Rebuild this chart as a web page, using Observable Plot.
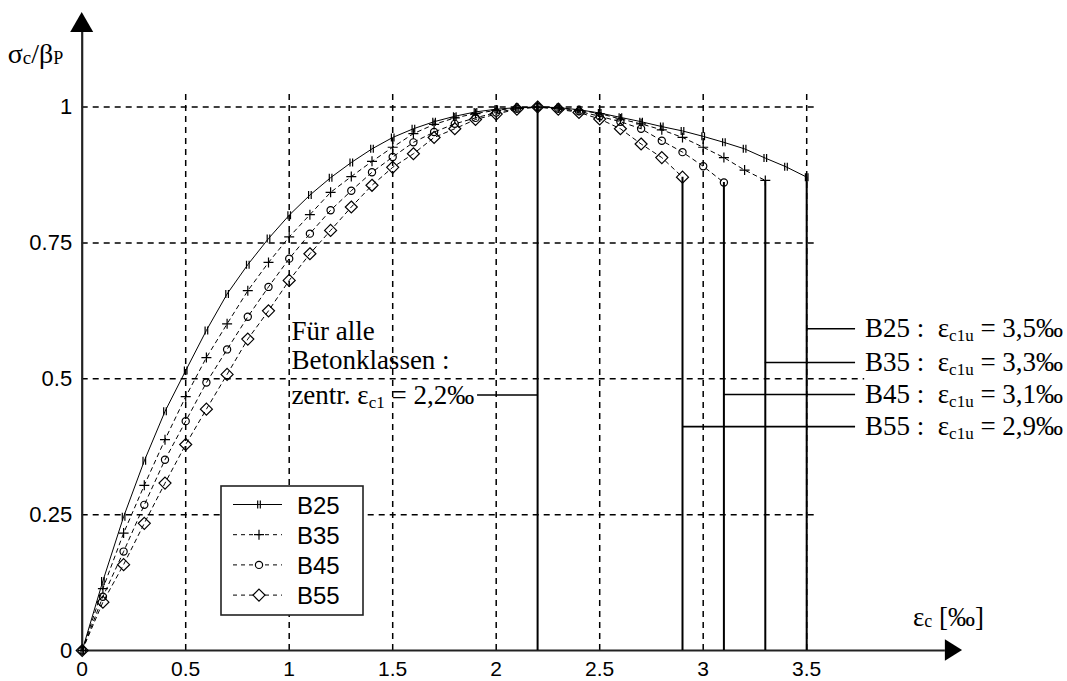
<!DOCTYPE html>
<html>
<head>
<meta charset="utf-8">
<script src="https://cdn.jsdelivr.net/npm/d3@7"></script>
<script src="https://cdn.jsdelivr.net/npm/@observablehq/plot@0.6"></script>
<style>
  html, body { margin: 0; padding: 0; background: #fff; }
  svg { display: block; }
</style>
</head>
<body>
<div id="chart"></div>
<script>
// ---------- data ----------
const strain = [0,0.1,0.2,0.3,0.4,0.5,0.6,0.7,0.8,0.9,1.0,1.1,1.2,1.3,1.4,1.5,1.6,1.7,1.8,1.9,2.0,2.1,2.2,2.3,2.4,2.5,2.6,2.7,2.8,2.9,3.0,3.1,3.2,3.3,3.4,3.5];
const classes = ["B25","B35","B45","B55"];
const b25 = [0,0.128,0.246,0.349,0.44,0.515,0.589,0.656,0.71,0.758,0.801,0.838,0.87,0.898,0.923,0.944,0.96,0.973,0.983,0.991,0.996,0.999,1,0.999,0.995,0.989,0.981,0.973,0.964,0.956,0.946,0.935,0.923,0.906,0.89,0.871];
const b35 = [0,0.114,0.216,0.304,0.388,0.467,0.539,0.601,0.662,0.714,0.761,0.802,0.843,0.872,0.9,0.926,0.951,0.968,0.98,0.988,0.994,0.998,1,0.998,0.994,0.988,0.978,0.969,0.958,0.944,0.926,0.907,0.884,0.865];
const b45 = [0,0.099,0.182,0.268,0.351,0.422,0.493,0.554,0.614,0.669,0.721,0.767,0.81,0.846,0.88,0.908,0.935,0.954,0.969,0.98,0.99,0.997,1,0.997,0.992,0.983,0.973,0.96,0.938,0.917,0.891,0.861];
const b55 = [0,0.089,0.158,0.234,0.308,0.379,0.444,0.508,0.573,0.625,0.681,0.73,0.773,0.816,0.856,0.889,0.914,0.944,0.96,0.977,0.987,0.996,1,0.996,0.99,0.978,0.96,0.932,0.907,0.871];
const ultimateStrain = [3.5,3.3,3.1,2.9];
const ultimateLabels = ["3,5‰","3,3‰","3,1‰","2,9‰"];
const leaderLevels = [0.592,0.530,0.471,0.412];
const peakStrain = 2.2;
const peakLabel = "2,2‰";
const peakLeaderLevel = 0.470;
const xTicks = [0,0.5,1,1.5,2,2.5,3,3.5];
const yTicks = [0,0.25,0.5,0.75,1];
const xGrid = [0.5,1,1.5,2,2.5,3,3.5];
const yGrid = [0.25,0.5,0.75,1];
const yGridEnd = [3.55,3.78,3.55,3.55];

// ---------- derived tables ----------
const series = [b25,b35,b45,b55];
const rows = classes.flatMap((c,i) => series[i].map((v,j) => ({cls:c, eps:strain[j], s:v})));
const ends = classes.map((c,i) => ({cls:c, eps:ultimateStrain[i], s:series[i][series[i].length-1], lvl:leaderLevels[i], lab:ultimateLabels[i]}));
const peak = [{eps:peakStrain, s:d3.max(b25)}];
const hGrid = yGrid.map((y,i) => ({y, x2:yGridEnd[i]}));

// ---------- symbols ----------
const tickSym = {draw(ctx,size){const r=Math.sqrt(size/Math.PI);ctx.moveTo(-1.3,-r);ctx.lineTo(-1.3,r);ctx.moveTo(1.3,-r);ctx.lineTo(1.3,r);}};
const plusSym = {draw(ctx,size){const r=Math.sqrt(size/Math.PI);ctx.moveTo(-r,0);ctx.lineTo(r,0);ctx.moveTo(0,-r);ctx.lineTo(0,r);}};
const circSym = {draw(ctx,size){const r=Math.sqrt(size/Math.PI);ctx.moveTo(r,0);ctx.arc(0,0,r,0,2*Math.PI);ctx.closePath();}};
const diamSym = {draw(ctx,size){const r=Math.sqrt(size/Math.PI);ctx.moveTo(0,-r);ctx.lineTo(r,0);ctx.lineTo(0,r);ctx.lineTo(-r,0);ctx.closePath();}};
const styles = {
  B25: {dash: null, sym: tickSym, r: 4},
  B35: {dash: "4,4", sym: plusSym, r: 5},
  B45: {dash: "4,4", sym: circSym, r: 3.6},
  B55: {dash: "4,4", sym: diamSym, r: 6}
};

const seriesMarks = classes.flatMap(c => {
  const d = rows.filter(r => r.cls === c);
  const st = styles[c];
  return [
    Plot.line(d, {x:"eps", y:"s", stroke:"black", strokeWidth:1, strokeDasharray: st.dash || undefined}),
    Plot.dot(d, {x:"eps", y:"s", symbol: st.sym, r: st.r, fill:"none", stroke:"black", strokeWidth:1.2})
  ];
});

const plot = Plot.plot({
  width: 1067, height: 681,
  marginLeft: 81.7, marginRight: 95.2, marginTop: 8.7, marginBottom: 31,
  x: {domain:[0,4.3]},
  y: {domain:[0,1.18]},
  style: {fontFamily:"'Liberation Sans', Arial, sans-serif", fontSize:"21px", background:"white", color:"black", overflow:"visible"},
  marks: [
    Plot.ruleX(xGrid, {x: d => d, y1: 0, y2: 1.025, stroke:"black", strokeWidth:1.5, strokeDasharray:"6,5"}),
    Plot.ruleY(hGrid, {y:"y", x1: 0, x2:"x2", stroke:"black", strokeWidth:1.5, strokeDasharray:"6,5"}),
    Plot.ruleY([0], {x1:0, x2:4.17, stroke:"#222", strokeWidth:2.2}),
    Plot.ruleX([0], {y1:0, y2:1.137, stroke:"#222", strokeWidth:2.2}),
    Plot.axisX(xTicks, {tickSize:0, tickPadding:11, tickFormat: d => String(d), label:null, fontSize:21}),
    Plot.axisY(yTicks, {tickSize:0, tickPadding:10, tickFormat: d => String(d), label:null, fontSize:22}),
    ...seriesMarks,
    Plot.ruleX(ends, {x:"eps", y1:0, y2:"s", stroke:"black", strokeWidth:2}),
    Plot.ruleX(peak, {x:"eps", y1:0, y2:"s", stroke:"black", strokeWidth:2}),
    Plot.ruleY(ends, {y:"lvl", x1:"eps", x2:3.736, stroke:"black", strokeWidth:1.6}),
    Plot.ruleY([peakLeaderLevel], {y: d => d, x1:1.91, x2:peakStrain, stroke:"black", strokeWidth:1.6})
  ]
});
document.getElementById("chart").appendChild(plot);

// ---------- overlays (labels, legend, arrows) ----------
const svg = d3.select(plot);
const sx = plot.scale("x"), sy = plot.scale("y");
const X = v => sx.apply(v), Y = v => sy.apply(v);
const serif = "'Liberation Serif', 'Times New Roman', serif";
const sans = "'Liberation Sans', Arial, sans-serif";

// arrows
svg.append("path").attr("d", `M${X(4.253)},${Y(0)}L${X(4.17)},${Y(0)-10.8}L${X(4.17)},${Y(0)+10.8}Z`).attr("fill","black");
svg.append("path").attr("d", `M${X(0)},${Y(1.174)}L${X(0)-11.5},${Y(1.137)}L${X(0)+11.5},${Y(1.137)}Z`).attr("fill","black");

function richText(x, y, parts, size, anchor="start") {
  const t = svg.append("text").attr("x", x).attr("y", y).attr("font-family", serif)
    .attr("font-size", size).attr("text-anchor", anchor).attr("fill","black").attr("xml:space","preserve");
  let shift = 0;
  for (const p of parts) {
    const sp = t.append("tspan").text(p.t);
    if (p.sub) { sp.attr("font-size", p.size || 17).attr("dy", p.dy - shift); shift = p.dy; }
    else { if (shift) sp.attr("dy", -shift); shift = 0; }
  }
  return t;
}

// axis titles
richText(X(0) - 74, 63, [{t:"σ"},{t:"c",sub:true,dy:1,size:19},{t:"/β"},{t:"P",sub:true,dy:1,size:18}], 28);
richText(913, Y(0) - 24, [{t:"ε"},{t:"c",sub:true,dy:1,size:18},{t:" [‰]"}], 27);

// right annotations
ends.forEach(e => {
  richText(X(3.784), Y(e.lvl) + 9, [{t:e.cls + " :  ε"},{t:"c1u",sub:true,dy:4,size:17},{t:" = " + e.lab}], 27);
});

// left annotation
const lx = X(1.013), ly = Y(peakLeaderLevel);
richText(lx, ly - 55, [{t:"Für alle"}], 27);
richText(lx, ly - 26, [{t:"Betonklassen :"}], 27);
richText(lx, ly + 9, [{t:"zentr. ε"},{t:"c1",sub:true,dy:4,size:17},{t:" = " + peakLabel}], 27);

// legend
const lg = svg.append("g");
lg.append("rect").attr("x",221).attr("y",486).attr("width",142).attr("height",129)
  .attr("fill","white").attr("stroke","#222").attr("stroke-width",1.6);
classes.forEach((c,i) => {
  const yy = 504.5 + i*30.2;
  const st = styles[c];
  lg.append("line").attr("x1",233).attr("x2",282).attr("y1",yy).attr("y2",yy)
    .attr("stroke","black").attr("stroke-width",1).attr("stroke-dasharray", st.dash || null);
  lg.append("path").attr("transform",`translate(259,${yy})`)
    .attr("d", d3.symbol().type(st.sym).size(Math.PI*st.r*st.r)())
    .attr("fill","white").attr("stroke","black").attr("stroke-width",1.2);
  lg.append("text").attr("x",297).attr("y",yy+9).attr("font-family",sans).attr("font-size",24)
    .attr("text-anchor","start").attr("fill","black").text(c);
});
</script>
</body>
</html>
